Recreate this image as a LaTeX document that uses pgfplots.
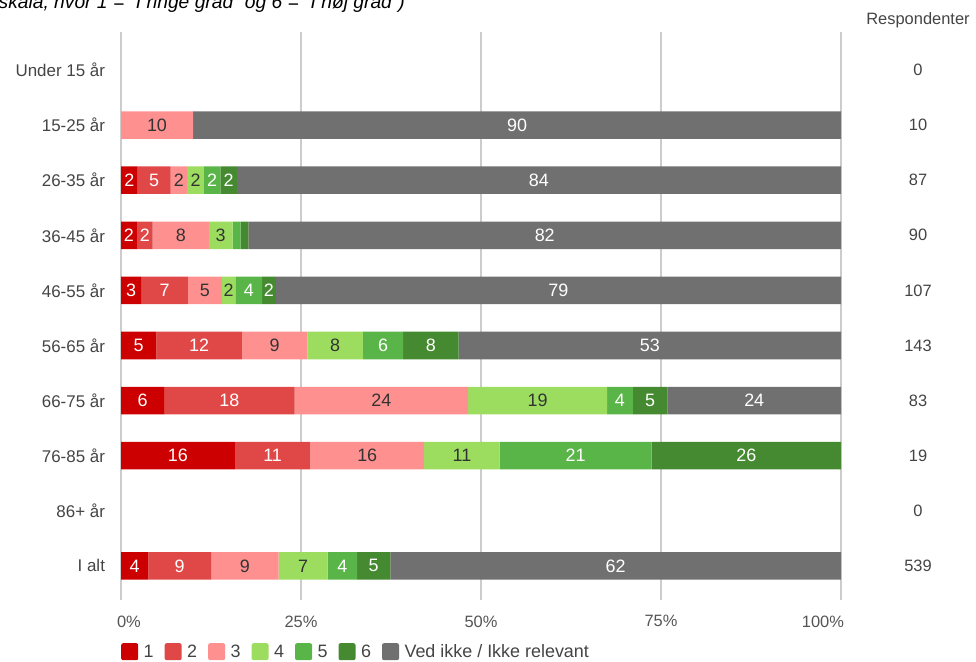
\documentclass[border=0pt]{standalone}
\usepackage{pgfplots}
\usepackage{pgfplotstable}
\pgfplotsset{compat=1.18}
\usepackage{fontspec}
\setmainfont{Liberation Sans}
\definecolor{c1}{HTML}{CC0000}
\definecolor{c2}{HTML}{E04848}
\definecolor{c3}{HTML}{FF9090}
\definecolor{c4}{HTML}{9CDD5F}
\definecolor{c5}{HTML}{5AB548}
\definecolor{c6}{HTML}{458A30}
\definecolor{c7}{HTML}{707070}
\definecolor{gridc}{HTML}{CCCCCC}
\definecolor{zeroc}{HTML}{999999}
\definecolor{labc}{HTML}{444444}
\definecolor{xlabc}{HTML}{555555}
\definecolor{darktxt}{HTML}{333333}
% segment values in percent (rows 0..9)
\pgfplotstableread{
y  v1   v2   v3   v4   v5   v6   v7
0  0    0    0    0    0    0    0
1  0    0    10.0 0    0    0    90.0
2  2.3  4.6  2.3  2.3  2.3  2.3  83.9
3  2.2  2.2  7.8  3.3  1.1  1.1  82.3
4  2.8  6.5  4.7  1.9  3.7  1.9  78.5
5  4.9  11.9 9.1  7.7  5.6  7.7  53.1
6  6.0  18.1 24.1 19.3 3.6  4.8  24.1
7  15.8 10.5 15.8 10.5 21.1 26.3 0
8  0    0    0    0    0    0    0
9  3.8  8.7  9.4  6.8  4.1  4.6  62.6
}\datatable
% label positions (segment centres) and texts
\pgfplotstableread{
x     y  lab
1.15  2  2
4.6   2  5
12.65 2  2
14.95 2  2
58.05 2  84
55.0  1  90
1.1   3  2
3.3   3  2
58.85 3  82
1.4   4  3
6.05  4  7
17.75 4  4
20.55 4  2
60.75 4  79
2.45  5  5
10.85 5  12
36.4  5  6
43.05 5  8
73.45 5  53
3.0   6  6
15.05 6  18
69.3  6  4
73.5  6  5
87.95 6  24
7.9   7  16
21.05 7  11
63.15 7  21
86.85 7  26
1.9   9  4
8.15  9  9
30.75 9  4
35.1  9  5
68.7  9  62
}\whitelabels
\pgfplotstableread{
x     y  lab
5.0   1  10
8.05  2  2
10.35 2  2
8.3   3  8
13.85 3  3
11.65 4  5
14.95 4  2
21.35 5  9
29.75 5  8
36.15 6  24
57.85 6  19
34.2  7  16
47.35 7  11
17.2  9  9
25.3  9  7
}\darklabels
\pgfplotsset{
  common/.style={
    at={(121bp,62bp)}, anchor=south west,
    width=720bp, height=568bp, scale only axis,
    clip=false,
    xmin=0, xmax=100,
    ymin=-0.69, ymax=9.62, y dir=reverse,
  }
}
\begin{document}
\begin{tikzpicture}
\begin{axis}[
  common,
  xbar stacked, bar width=0.5,
  ytick={0,...,9},
  yticklabels={Under 15 år,15-25 år,26-35 år,36-45 år,46-55 år,56-65 år,66-75 år,76-85 år,86+ år,I alt},
  xtick={0,25,50,75,100},
  xticklabels={\makebox[0pt][l]{\hspace*{-4bp}0\%},25\%,50\%,75\%,\makebox[0pt][r]{100\%\hspace*{-3bp}}},
  xmajorgrids,
  major grid style={draw=gridc, line width=1.2bp},
  extra x ticks={0},
  extra x tick labels={},
  extra x tick style={grid style={draw=zeroc, line width=1.2bp}},
  axis line style={draw=none},
  major tick length=0pt,
  yticklabel style={font=\fontsize{17}{17}\selectfont, text=labc, xshift=-12.5bp},
  xticklabel style={font=\fontsize{16.5}{17}\selectfont, text=xlabc, yshift=-12bp},
  legend image code/.code={\draw[#1, draw=none, rounded corners=2bp] (0bp,-8.5bp) rectangle (17bp,8.5bp);},
  legend columns=-1,
  legend style={at={(axis description cs:0,-0.0757)}, anchor=north west, draw=none, fill=none, inner sep=0pt,
    font=\fontsize{18}{18}\selectfont, text=labc,
    nodes={inner sep=0pt},
    /tikz/every odd column/.append style={column sep=5.5bp},
    /tikz/every even column/.append style={column sep=11bp}},
]
\addplot[fill=c1, draw=none] table[x=v1, y=y] {\datatable};
\addplot[fill=c2, draw=none] table[x=v2, y=y] {\datatable};
\addplot[fill=c3, draw=none] table[x=v3, y=y] {\datatable};
\addplot[fill=c4, draw=none] table[x=v4, y=y] {\datatable};
\addplot[fill=c5, draw=none] table[x=v5, y=y] {\datatable};
\addplot[fill=c6, draw=none] table[x=v6, y=y] {\datatable};
\addplot[fill=c7, draw=none] table[x=v7, y=y] {\datatable};
\legend{1,2,3,4,5,6,Ved ikke / Ikke relevant}
\node[font=\fontsize{16.5}{17}\selectfont, text=labc] at ([xshift=77bp,yshift=12bp]axis description cs:1,1) {Respondenter};
\node[font=\fontsize{16.5}{17}\selectfont, text=labc, xshift=77bp] at (axis cs:100,0) {0};
\node[font=\fontsize{16.5}{17}\selectfont, text=labc, xshift=77bp] at (axis cs:100,1) {10};
\node[font=\fontsize{16.5}{17}\selectfont, text=labc, xshift=77bp] at (axis cs:100,2) {87};
\node[font=\fontsize{16.5}{17}\selectfont, text=labc, xshift=77bp] at (axis cs:100,3) {90};
\node[font=\fontsize{16.5}{17}\selectfont, text=labc, xshift=77bp] at (axis cs:100,4) {107};
\node[font=\fontsize{16.5}{17}\selectfont, text=labc, xshift=77bp] at (axis cs:100,5) {143};
\node[font=\fontsize{16.5}{17}\selectfont, text=labc, xshift=77bp] at (axis cs:100,6) {83};
\node[font=\fontsize{16.5}{17}\selectfont, text=labc, xshift=77bp] at (axis cs:100,7) {19};
\node[font=\fontsize{16.5}{17}\selectfont, text=labc, xshift=77bp] at (axis cs:100,8) {0};
\node[font=\fontsize{16.5}{17}\selectfont, text=labc, xshift=77bp] at (axis cs:100,9) {539};
\end{axis}
\begin{axis}[common, hide axis]
\addplot[only marks, mark=none, nodes near coords, point meta=explicit symbolic,
  every node near coord/.append style={anchor=center, text=white, inner sep=0pt, font=\fontsize{18}{18}\selectfont}]
  table[x=x, y=y, meta=lab] {\whitelabels};
\addplot[only marks, mark=none, nodes near coords, point meta=explicit symbolic,
  every node near coord/.append style={anchor=center, text=darktxt, inner sep=0pt, font=\fontsize{18}{18}\selectfont}]
  table[x=x, y=y, meta=lab] {\darklabels};
\end{axis}
\node[anchor=base east, font=\fontsize{19.3}{20}\selectfont\itshape, inner sep=0pt] at (405bp,653bp) {6-punktsskala, hvor 1 = "I ringe grad" og 6 = "I høj grad")};
\pgfresetboundingbox
\useasboundingbox (0,0) rectangle (976bp,662bp);
\end{tikzpicture}
\end{document}
